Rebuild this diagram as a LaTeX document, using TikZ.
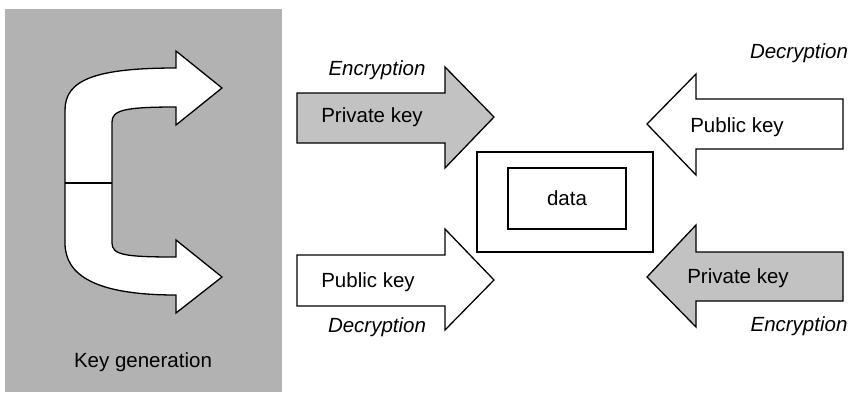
\documentclass[tikz,border=0pt]{standalone}
\usepackage{fontspec}
\setmainfont{Liberation Sans}
\begin{document}
\begin{tikzpicture}[x=1pt,y=-1pt,
  outline/.style={draw=black,line width=1.3pt,line join=miter},
  lbl/.style={inner sep=0pt,font=\fontsize{20.5}{24}\selectfont},
  ilbl/.style={lbl,font=\fontsize{20.5}{24}\selectfont\itshape},
  panelfill/.style={fill=black!30},
  keyfill/.style={fill=black!24}]
\useasboundingbox (0,0) rectangle (852,392);

% key generation panel
\fill[panelfill] (5,9) rectangle (282,392);
\draw[outline,fill=white]
  (176,68) -- (176,51) -- (222,88) -- (176,125) -- (176,107)
  .. controls (125,107) and (112,110) .. (112,122)
  -- (112,243)
  .. controls (112,255) and (125,257) .. (176,257)
  -- (176,240) -- (222,277) -- (176,313) -- (176,295)
  .. controls (95,295) and (65,275) .. (65,243)
  -- (65,110)
  .. controls (65,80) and (95,68) .. (176,68) -- cycle;
\draw[outline] (65,183) -- (112,183);
\node[lbl] (keygen) at (143,362) {Key generation};

% left column: arrows towards the data
\draw[outline,keyfill] (297,93) -- (445,93) -- (445,67) -- (494,117)
  -- (445,168) -- (445,143) -- (297,143) -- cycle;
\node[lbl] (privL) at (372,117) {Private key};
\node[ilbl] (encL) at (377,70) {Encryption};

\draw[outline,fill=white] (297,255) -- (445,255) -- (445,229) -- (494,280)
  -- (445,330) -- (445,306) -- (297,306) -- cycle;
\node[lbl] (pubL) at (368,282) {Public key};
\node[ilbl] (decL) at (377,327) {Decryption};

% data block
\node[outline,fill=white,minimum width=176pt,minimum height=100pt,inner sep=0pt]
  (outerbox) at (565,202) {};
\node[outline,fill=white,minimum width=118pt,minimum height=61pt,inner sep=0pt,
  lbl] (data) at (567,198.5) {data};

% right column: arrows towards the data
\draw[outline,fill=white] (647,124) -- (696,74) -- (696,99) -- (843,99)
  -- (843,149) -- (696,149) -- (696,175) -- cycle;
\node[lbl] (pubR) at (737,127) {Public key};
\node[ilbl] (decR) at (799,53) {Decryption};

\draw[outline,keyfill] (647,277) -- (696,225) -- (696,252) -- (843,252)
  -- (843,301) -- (696,301) -- (696,327) -- cycle;
\node[lbl] (privR) at (738,278) {Private key};
\node[ilbl] (encR) at (799,326) {Encryption};
\end{tikzpicture}
\end{document}
